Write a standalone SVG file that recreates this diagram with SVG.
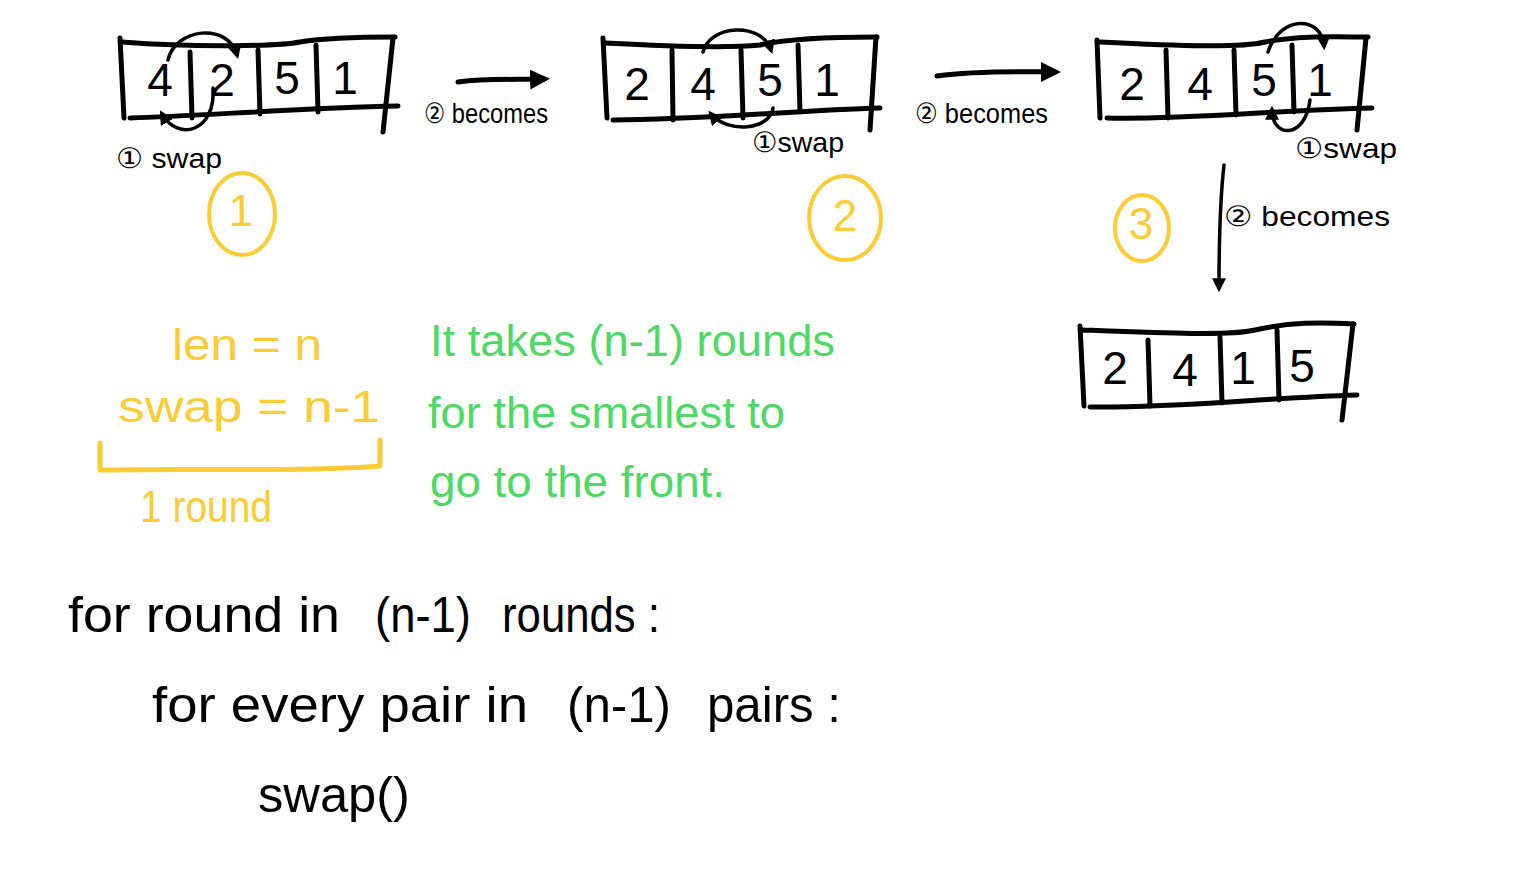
<svg xmlns="http://www.w3.org/2000/svg" width="1536" height="890" viewBox="0 0 1536 890">
<style>
.ink{fill:none;stroke:#000;stroke-width:5;stroke-linecap:round;stroke-linejoin:round}
.thin{fill:none;stroke:#000;stroke-width:3.5;stroke-linecap:round}
.yl{fill:none;stroke:#FDCB33;stroke-width:4;stroke-linecap:round}
.num{font-family:"Liberation Sans",Arial,sans-serif;font-size:46px;fill:#000;text-anchor:middle}
.lbl{font-family:"Liberation Sans","DejaVu Sans",sans-serif;font-size:28px;fill:#000}
.ytx{font-family:"Liberation Sans",Arial,sans-serif;font-size:44px;fill:#FDCB33}
.gtx{font-family:"Liberation Sans",Arial,sans-serif;font-size:44px;fill:#4CD964}
.btx{font-family:"Liberation Sans",Arial,sans-serif;font-size:50px;fill:#000}
</style>
<defs>
<marker id="ah" viewBox="0 0 10 10" refX="7" refY="5" markerWidth="4" markerHeight="4" orient="auto-start-reverse" markerUnits="strokeWidth">
<path d="M0,0 L10,5 L0,10 z" fill="#000"/>
</marker>
</defs>
<rect width="1536" height="890" fill="#fff"/>

<g id="array1">
<path class="ink" d="M120,38 L124,118"/>
<path class="ink" d="M122,42 C200,48 280,46 300,42 C330,37 370,37 395,37"/>
<path class="ink" d="M393,38 L383,132"/>
<path class="ink" d="M130,118 C200,116 300,108 398,106"/>
<path class="ink" d="M190,52 L192,118 M258,50 L260,114 M316,45 L318,112"/>
<text class="num" x="160" y="96">4</text>
<text class="num" x="222" y="96">2</text>
<text class="num" x="287" y="94">5</text>
<text class="num" x="345" y="94">1</text>
</g>

<g id="array2">
<path class="ink" d="M603,38 L607,118"/>
<path class="ink" d="M605,43 C680,47 730,48 760,45 C790,38 840,37 877,37"/>
<path class="ink" d="M876,37 L870,130"/>
<path class="ink" d="M613,120 C700,120 800,110 880,108"/>
<path class="ink" d="M672,50 L673,120 M741,50 L743,118 M798,45 L800,112"/>
<text class="num" x="637" y="100">2</text>
<text class="num" x="703" y="100">4</text>
<text class="num" x="770" y="96">5</text>
<text class="num" x="827" y="96">1</text>
</g>

<g id="array3">
<path class="ink" d="M1097,40 L1100,118"/>
<path class="ink" d="M1100,42 C1180,46 1240,48 1265,42 C1300,35 1340,37 1368,37"/>
<path class="ink" d="M1366,38 L1357,130"/>
<path class="ink" d="M1107,118 C1180,120 1280,110 1372,108"/>
<path class="ink" d="M1166,50 L1168,118 M1234,50 L1236,115 M1292,45 L1294,112"/>
<text class="num" x="1132" y="100">2</text>
<text class="num" x="1200" y="100">4</text>
<text class="num" x="1264" y="96">5</text>
<text class="num" x="1320" y="96">1</text>
</g>

<g id="array4">
<path class="ink" d="M1080,326 L1084,406"/>
<path class="ink" d="M1082,330 C1160,333 1230,336 1255,330 C1290,322 1320,322 1354,324"/>
<path class="ink" d="M1353,324 L1342,420"/>
<path class="ink" d="M1090,407 C1180,408 1260,398 1357,395"/>
<path class="ink" d="M1148,340 L1150,406 M1220,337 L1222,403 M1277,330 L1279,400"/>
<text class="num" x="1115" y="384">2</text>
<text class="num" x="1185" y="386">4</text>
<text class="num" x="1243" y="384">1</text>
<text class="num" x="1302" y="382">5</text>
</g>

<g id="connectors">
<path class="thin" d="M168,60 C175,28 228,22 237,55" marker-end="url(#ah)"/>
<path class="thin" d="M213,88 C216,132 178,142 162,114" marker-end="url(#ah)"/>
<path class="thin" d="M703,52 C710,24 762,22 771,50" marker-end="url(#ah)"/>
<path class="thin" d="M773,108 C770,130 728,134 711,114" marker-end="url(#ah)"/>
<path class="thin" d="M1268,52 C1280,14 1322,16 1324,46" marker-end="url(#ah)"/>
<path class="thin" d="M1310,100 C1305,140 1272,138 1272,110" marker-end="url(#ah)"/>
<path class="ink" d="M458,82 C490,78 520,80 544,79" marker-end="url(#ah)"/>
<path class="ink" d="M937,76 C980,70 1030,72 1055,72" marker-end="url(#ah)"/>
<path class="thin" d="M1224,165 C1220,200 1219,250 1219,288" marker-end="url(#ah)"/>
</g>

<g id="labels">
<text class="lbl" x="116" y="168" textLength="106" lengthAdjust="spacingAndGlyphs">① swap</text>
<text class="lbl" x="424" y="123" textLength="124" lengthAdjust="spacingAndGlyphs">② becomes</text>
<text class="lbl" x="752" y="152" textLength="92" lengthAdjust="spacingAndGlyphs">①swap</text>
<text class="lbl" x="915" y="123" textLength="133" lengthAdjust="spacingAndGlyphs">② becomes</text>
<text class="lbl" x="1295" y="158" textLength="102" lengthAdjust="spacingAndGlyphs">①swap</text>
<text class="lbl" x="1224" y="226" textLength="166" lengthAdjust="spacingAndGlyphs">② becomes</text>
</g>

<g id="step1">
<ellipse class="yl" cx="242" cy="214" rx="33" ry="41"/>
<text class="ytx" x="241" y="226" font-size="32" text-anchor="middle">1</text>
</g>
<g id="step2">
<ellipse class="yl" cx="845" cy="218" rx="36" ry="42"/>
<text class="ytx" x="845" y="231" font-size="34" text-anchor="middle">2</text>
</g>
<g id="step3">
<ellipse class="yl" cx="1142" cy="228" rx="27" ry="33"/>
<text class="ytx" x="1141" y="239" font-size="30" text-anchor="middle">3</text>
</g>

<g id="yellow-notes">
<text class="ytx" x="172" y="360" textLength="150" lengthAdjust="spacingAndGlyphs">len = n</text>
<text class="ytx" x="118" y="422" textLength="262" lengthAdjust="spacingAndGlyphs">swap = n-1</text>
<path d="M100,443 L100,470 C200,468 300,472 380,466 L380,440" fill="none" stroke="#FDCB33" stroke-width="5" stroke-linecap="round" stroke-linejoin="round"/>
<text class="ytx" x="140" y="522" textLength="132" lengthAdjust="spacingAndGlyphs">1 round</text>
</g>

<g id="green-notes">
<text class="gtx" x="430" y="356" textLength="405" lengthAdjust="spacingAndGlyphs">It takes (n-1) rounds</text>
<text class="gtx" x="428" y="428" textLength="357" lengthAdjust="spacingAndGlyphs">for the smallest to</text>
<text class="gtx" x="430" y="497" textLength="295" lengthAdjust="spacingAndGlyphs">go to the front.</text>
</g>

<g id="pseudocode">
<text class="btx" x="68" y="632" textLength="272" lengthAdjust="spacingAndGlyphs">for round in</text>
<text class="btx" x="375" y="632" textLength="96" lengthAdjust="spacingAndGlyphs" fill="#4CD964">(n-1)</text>
<text class="btx" x="502" y="632" textLength="158" lengthAdjust="spacingAndGlyphs">rounds :</text>
<text class="btx" x="152" y="722" textLength="376" lengthAdjust="spacingAndGlyphs">for every pair in</text>
<text class="btx" x="567" y="722" textLength="104" lengthAdjust="spacingAndGlyphs" fill="#FDCB33">(n-1)</text>
<text class="btx" x="707" y="722" textLength="134" lengthAdjust="spacingAndGlyphs">pairs :</text>
<text class="btx" x="258" y="812" textLength="152" lengthAdjust="spacingAndGlyphs">swap()</text>
</g>
</svg>
